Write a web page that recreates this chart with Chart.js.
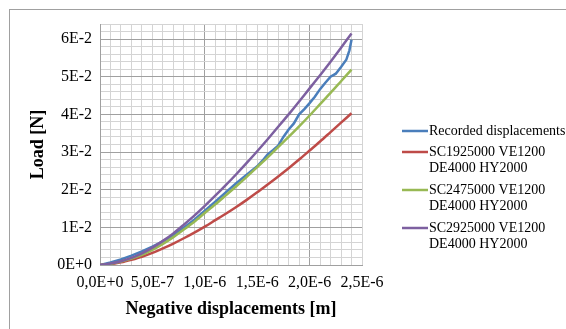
<!DOCTYPE HTML>
<html>
<head>
  <script src="https://cdn.jsdelivr.net/npm/chart.js"></script>
  <style>
    html, body { margin: 0; padding: 0; background: #fff; }
  </style>
  <script>
    // displacement in 1E-6 m, load in 1E-2 N
    const dispModel = [0, 0.1, 0.2, 0.3, 0.4, 0.5, 0.6, 0.7, 0.8, 0.9, 1.0, 1.1, 1.2,
                       1.3, 1.4, 1.5, 1.6, 1.7, 1.8, 1.9, 2.0, 2.1, 2.2, 2.3, 2.4];
    const loadSC1925 = [0, 0.02, 0.07, 0.14, 0.22, 0.32, 0.44, 0.57, 0.71, 0.86, 1.02, 1.19, 1.36,
                        1.54, 1.73, 1.93, 2.14, 2.35, 2.57, 2.80, 3.04, 3.28, 3.53, 3.78, 4.03];
    const loadSC2475 = [0, 0.03, 0.09, 0.17, 0.27, 0.40, 0.56, 0.74, 0.94, 1.15, 1.38, 1.61, 1.85,
                        2.09, 2.34, 2.60, 2.86, 3.13, 3.40, 3.68, 3.97, 4.27, 4.57, 4.88, 5.19];
    const loadSC2925 = [0, 0.04, 0.10, 0.19, 0.31, 0.46, 0.64, 0.84, 1.07, 1.31, 1.57, 1.84, 2.12,
                        2.41, 2.71, 3.02, 3.34, 3.67, 4.00, 4.34, 4.69, 5.04, 5.40, 5.77, 6.15];

    const dispRecorded = [0, 0.1, 0.2, 0.3, 0.4, 0.5, 0.6, 0.7, 0.8, 0.9, 1.0, 1.1, 1.2, 1.3, 1.4, 1.5,
                          1.55, 1.6, 1.65, 1.7, 1.75, 1.8, 1.85, 1.9, 1.95, 2.0, 2.05, 2.1, 2.15, 2.2,
                          2.25, 2.3, 2.35, 2.38, 2.4];
    const loadRecorded = [0, 0.07, 0.15, 0.25, 0.36, 0.49, 0.63, 0.79, 0.99, 1.20, 1.44, 1.68, 1.93, 2.17, 2.40, 2.62,
                          2.77, 2.94, 3.05, 3.17, 3.40, 3.60, 3.76, 4.00, 4.14, 4.30, 4.47, 4.67, 4.84, 5.00,
                          5.08, 5.26, 5.45, 5.70, 5.98];

    const seriesNames = [
      ["Recorded displacements"],
      ["SC1925000 VE1200", "DE4000 HY2000"],
      ["SC2475000 VE1200", "DE4000 HY2000"],
      ["SC2925000 VE1200", "DE4000 HY2000"]
    ];
    const seriesColors = ["#4A7EBB", "#BE4B48", "#98B954", "#7D60A0"];

    const toPoints = (xs, ys) => xs.map((x, i) => ({x: x, y: ys[i]}));

    // frame + custom legend
    const extras = {
      id: 'extras',
      beforeDraw(chart) {
        const c = chart.ctx;
        c.save();
        c.fillStyle = '#fff';
        c.fillRect(0, 0, chart.width, chart.height);
        c.strokeStyle = '#a0a0a0';
        c.lineWidth = 1;
        c.strokeRect(9.5, 9.5, 700, 400);
        c.restore();
      },
      afterDraw(chart) {
        const c = chart.ctx;
        c.save();
        c.font = '14px "Liberation Serif"';
        c.textBaseline = 'middle';
        c.fillStyle = '#000';
        const rows = [131, 152, 190, 228];
        seriesNames.forEach((lines, i) => {
          const y = rows[i];
          c.strokeStyle = seriesColors[i];
          c.lineWidth = 2.5;
          c.beginPath();
          c.moveTo(402, y);
          c.lineTo(428, y);
          c.stroke();
          lines.forEach((t, j) => c.fillText(t, 429, y + j * 16.5));
        });
        c.restore();
      }
    };

    function isMult(v, step) {
      return Math.abs(v / step - Math.round(v / step)) < 1e-6;
    }

    function drawChart() {
      const ctx = document.getElementById('myChart').getContext('2d');
      const lineData = [
        toPoints(dispRecorded, loadRecorded),
        toPoints(dispModel, loadSC1925),
        toPoints(dispModel, loadSC2475),
        toPoints(dispModel, loadSC2925)
      ];
      const datasets = lineData.map((d, i) => ({
        label: seriesNames[i].join(' '),
        data: d,
        borderColor: seriesColors[i],
        borderWidth: 2.5,
        pointRadius: 0,
        tension: i === 0 ? 0 : 0.3,
        order: 4 - i
      }));

      new Chart(ctx, {
        type: 'scatter',
        data: { datasets: datasets },
        options: {
          responsive: false,
          animation: false,
          showLine: true,
          layout: { padding: { left: 18, top: 24, right: 204, bottom: 0 } },
          plugins: { legend: { display: false }, tooltip: { enabled: false } },
          scales: {
            x: {
              type: 'linear',
              min: 0, max: 2.5,
              afterFit: s => { s.height = 64; },
              ticks: {
                stepSize: 0.1,
                autoSkip: false,
                maxRotation: 0,
                padding: 8,
                color: '#000',
                font: { family: 'Liberation Serif', size: 16 },
                callback: v => isMult(v, 0.5)
                  ? (v * 1e-6).toExponential(1).replace('.', ',').replace('e', 'E') : ''
              },
              grid: {
                drawTicks: false,
                color: c => isMult(c.tick.value, 1) ? '#a0a0a0' : '#d4d4d4'
              },
              border: { color: '#a0a0a0' },
              title: {
                display: true,
                text: 'Negative displacements [m]',
                color: '#000',
                font: { family: 'Liberation Serif', size: 18, weight: 'bold' },
                padding: { top: 0, bottom: 9 }
              }
            },
            y: {
              type: 'linear',
              min: 0, max: 6.4,
              afterFit: s => { s.width = 82; },
              ticks: {
                stepSize: 0.2,
                autoSkip: false,
                padding: 8,
                color: '#000',
                font: { family: 'Liberation Serif', size: 16 },
                callback: v => isMult(v, 1)
                  ? (v * 1e-2).toExponential(0).replace('e', 'E') : ''
              },
              grid: {
                drawTicks: false,
                color: c => isMult(c.tick.value, 1) ? '#a0a0a0' : '#d4d4d4'
              },
              border: { color: '#a0a0a0' },
              title: {
                display: true,
                text: 'Load [N]',
                color: '#000',
                font: { family: 'Liberation Serif', size: 18, weight: 'bold' },
                padding: { top: 10, bottom: 0 }
              }
            }
          }
        },
        plugins: [extras]
      });
    }

    window.onload = drawChart;
  </script>
</head>
<body>
  <canvas id="myChart" width="566" height="329"></canvas>
</body>
</html>
